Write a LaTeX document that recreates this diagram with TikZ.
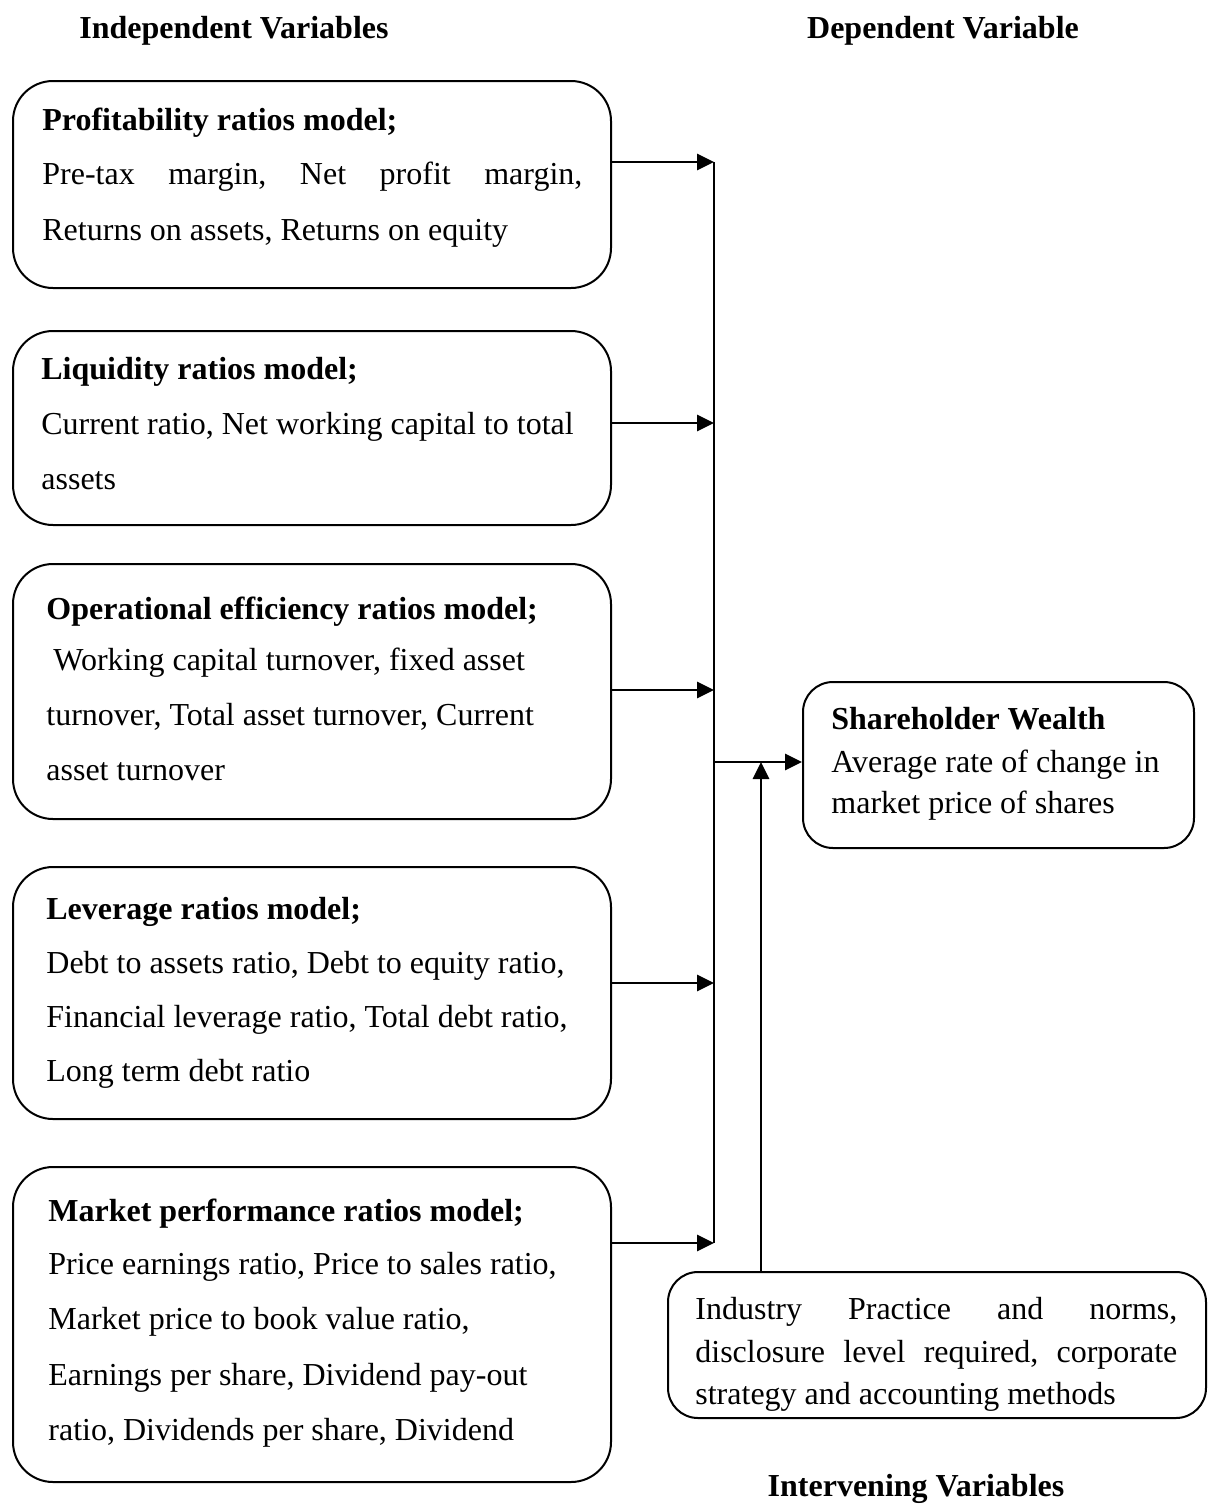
\documentclass[tikz,border=0pt]{standalone}
\usepackage{fontspec}
\setmainfont{Liberation Serif}
\usetikzlibrary{arrows.meta}
\begin{document}
\begin{tikzpicture}[x=0.5pt,y=-0.5pt, font=\fontsize{16}{19}\selectfont,
 box/.style={draw, line width=1pt, rounded corners=20pt, anchor=north west, inner sep=0pt, minimum width=299pt},
 sbox/.style={draw, line width=1pt, rounded corners=15pt, anchor=north west, inner sep=0pt},
 txt/.style={anchor=base west, inner sep=0pt},
 hd/.style={anchor=base, inner sep=0pt, font=\fontsize{16}{19}\selectfont\bfseries},
 arr/.style={line width=1.4pt, -{Triangle[length=8.5pt,width=8pt]}},
 ln/.style={line width=1.4pt}]
\useasboundingbox (0,0) rectangle (1208,1506);

% headings
\node[hd] (hind) at (234,38) {Independent Variables};
\node[hd] (hdep) at (943,38) {Dependent Variable};
\node[hd] (hint) at (916,1496) {Intervening Variables};

% boxes
\node[box, minimum height=103.5pt] (b1) at (12,80) {};
\node[box, minimum height=97pt] (b2) at (12,330) {};
\node[box, minimum height=127.5pt] (b3) at (12,563) {};
\node[box, minimum height=126pt] (b4) at (12,866) {};
\node[box, minimum height=157.5pt] (b5) at (12,1166) {};
\node[sbox, minimum width=195.5pt, minimum height=83pt] (sh) at (802,681) {};
\node[sbox, minimum width=269pt, minimum height=73pt] (iv) at (667,1271) {};

% box 1
\node[txt] (b1a) at (42,130) {\bfseries Profitability ratios model;};
\node[txt] (b1b) at (42,184) {\hbox to 270pt{Pre-tax\hfill margin,\hfill Net\hfill profit\hfill margin,}};
\node[txt] (b1c) at (42,240) {Returns on assets, Returns on equity};
% box 2
\node[txt] (b2a) at (41,379) {\bfseries Liquidity ratios model;};
\node[txt] (b2b) at (41,434) {Current ratio, Net working capital to total};
\node[txt] (b2c) at (41,489) {assets};
% box 3
\node[txt] (b3a) at (46,619) {\bfseries Operational efficiency ratios model;};
\node[txt] (b3b) at (53,670) {Working capital turnover, fixed asset};
\node[txt] (b3c) at (46,725) {turnover, Total asset turnover, Current};
\node[txt] (b3d) at (46,780) {asset turnover};
% box 4
\node[txt] (b4a) at (46,919) {\bfseries Leverage ratios model;};
\node[txt] (b4b) at (46,973) {Debt to assets ratio, Debt to equity ratio,};
\node[txt] (b4c) at (46,1027) {Financial leverage ratio, Total debt ratio,};
\node[txt] (b4d) at (46,1081) {Long term debt ratio};
% box 5
\node[txt] (b5a) at (48,1221) {\bfseries Market performance ratios model;};
\node[txt] (b5b) at (48,1274) {Price earnings ratio, Price to sales ratio,};
\node[txt] (b5c) at (48,1329) {Market price to book value ratio,};
\node[txt] (b5d) at (48,1385) {Earnings per share, Dividend pay-out};
\node[txt] (b5e) at (48,1440) {ratio, Dividends per share, Dividend};
% shareholder
\node[txt] (sha) at (831,729) {\bfseries Shareholder Wealth};
\node[txt] (shb) at (831,772) {Average rate of change in};
\node[txt] (shc) at (831,813) {market price of shares};
% intervening
\node[txt] (iva) at (695,1319) {\hbox to 241pt{Industry\hfill Practice\hfill and\hfill norms,}};
\node[txt] (ivb) at (695,1362) {\hbox to 241pt{disclosure\hfill level\hfill required,\hfill corporate}};
\node[txt] (ivc) at (695,1404) {strategy and accounting methods};

% connectors
\coordinate (j1) at (714,162);
\coordinate (j2) at (714,423);
\coordinate (j3) at (714,690);
\coordinate (j4) at (714,983);
\coordinate (j5) at (714,1243);
\coordinate (jm) at (714,762);
\coordinate (ja) at (761,762);
\draw[ln] (j1) -- (j5);
\draw[arr] (b1.east |- j1) -- (j1);
\draw[arr] (b2.east |- j2) -- (j2);
\draw[arr] (b3.east |- j3) -- (j3);
\draw[arr] (b4.east |- j4) -- (j4);
\draw[arr] (b5.east |- j5) -- (j5);
\draw[arr] (jm) -- (sh.west |- jm);
\draw[arr] (iv.north -| ja) -- (ja);
\end{tikzpicture}
\end{document}
